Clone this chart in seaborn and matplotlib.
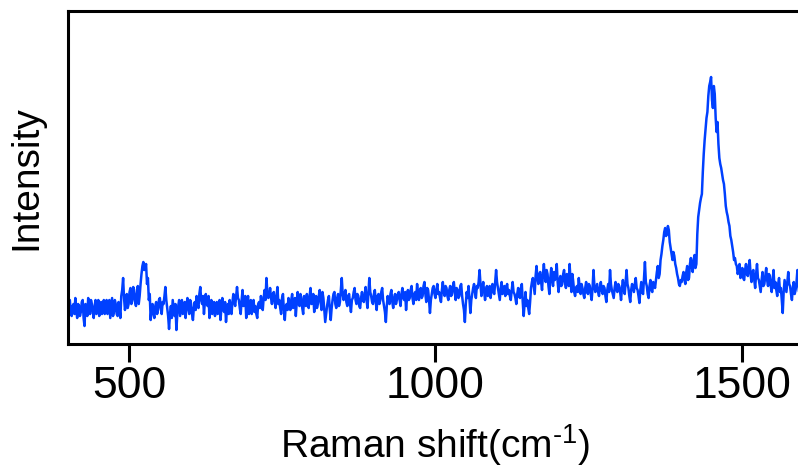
import numpy as np
import pandas as pd
import matplotlib
matplotlib.use("Agg")
import matplotlib.pyplot as plt
import seaborn as sns

# Raman spectrum, counts on the 3 cm^-1 grid 400, 403, ..., 1600
grid_start, grid_step = 400.0, 3.0
intensity_grid = [
    30, 44, 28, 40, 46, 26, 38, 32, 44, 18,      # 400-427
    36, 46, 30, 40, 26, 44, 34, 28, 42, 36,      # 430-457
    30, 44, 38, 26, 46, 32, 40, 28, 36, 48,      # 460-487
    66, 34, 50, 40, 56, 44, 54, 38, 58, 48,      # 490-517
    70, 82, 76, 60, 44, 24, 40, 26, 42, 34,      # 520-547
    46, 30, 40, 57, 36, 15, 38, 44, 28, 14,      # 550-577
    38, 28, 44, 34, 26, 46, 30, 40, 24, 42,      # 580-607
    48, 36, 57, 40, 30, 50, 38, 26, 44, 34,      # 610-637
    28, 42, 36, 24, 46, 32, 22, 40, 44, 30,      # 640-667
    50, 38, 57, 44, 30, 54, 40, 26, 48, 36,      # 670-697
    30, 44, 38, 26, 42, 48, 34, 54, 66, 46,      # 700-727
    56, 40, 52, 36, 57, 44, 30, 50, 24, 40,      # 730-757
    46, 34, 50, 40, 28, 52, 38, 46, 30, 44,      # 760-787
    50, 36, 56, 42, 32, 48, 40, 54, 34, 46,      # 790-817
    22, 38, 48, 24, 44, 52, 36, 50, 42, 66,      # 820-847
    44, 54, 38, 50, 32, 46, 56, 40, 48, 36,      # 850-877
    52, 42, 57, 36, 66, 48, 40, 54, 34, 50,      # 880-907
    44, 56, 38, 22, 48, 40, 54, 36, 50, 44,      # 910-937
    52, 38, 56, 44, 34, 54, 46, 58, 40, 52,      # 940-967
    60, 44, 56, 48, 62, 42, 54, 31, 50, 58,      # 970-997
    46, 60, 52, 42, 62, 48, 56, 44, 58, 50,      # 1000-1027
    62, 44, 54, 48, 60, 40, 22, 52, 58, 31,      # 1030-1057
    50, 60, 46, 56, 74, 48, 62, 44, 58, 52,      # 1060-1087
    46, 60, 50, 74, 56, 44, 62, 52, 48, 60,      # 1090-1117
    54, 44, 62, 50, 40, 56, 46, 60, 28, 52,      # 1120-1147
    44, 30, 56, 66, 50, 78, 60, 72, 54, 80,      # 1150-1177
    62, 70, 50, 76, 58, 64, 80, 52, 68, 60,      # 1180-1207
    74, 56, 66, 80, 52, 62, 48, 58, 66, 50,      # 1210-1237
    56, 46, 62, 50, 58, 44, 74, 52, 60, 48,      # 1240-1267
    62, 50, 56, 42, 60, 74, 54, 46, 62, 52,      # 1270-1297
    58, 44, 64, 50, 74, 56, 42, 60, 52, 66,      # 1300-1327
    54, 41, 62, 50, 82, 58, 46, 64, 52, 60,      # 1330-1357
    64, 78, 70, 90, 104, 116, 110, 114, 96, 84,  # 1360-1387
    88, 76, 66, 58, 62, 72, 60, 78, 66, 86,      # 1390-1417
    72, 89, 80, 127, 141, 150, 190, 215, 232, 258,   # 1420-1447
    267, 236, 250, 212, 200, 180, 170, 160, 138, 128,  # 1450-1477
    118, 104, 92, 86, 78, 74, 66, 76, 64, 80,    # 1480-1507
    68, 84, 62, 74, 56, 80, 64, 52, 72, 60,      # 1510-1537
    76, 58, 68, 52, 74, 62, 48, 66, 56, 31,      # 1540-1567
    64, 52, 72, 58, 44, 62, 54, 74, 50, 31,      # 1570-1597
    56,                                          # 1600
]

# counts at the half-step positions 401.5, 404.5, ..., 1598.5
intensity_half = [
    42, 32, 38, 30, 34, 40, 28, 42, 26, 40,      # 401.5-428.5
    28, 36, 44, 32, 38, 30, 44, 40, 30, 44,      # 431.5-458.5
    40, 30, 44, 36, 28, 44, 30, 42, 26, 54,      # 461.5-488.5
    46, 40, 36, 52, 40, 57, 42, 50, 40, 60,      # 491.5-518.5
    78, 74, 80, 66, 50, 36, 30, 38, 30, 44,      # 521.5-548.5
    36, 42, 48, 44, 28, 30, 26, 36, 40, 30,      # 551.5-578.5
    44, 36, 30, 42, 38, 36, 44, 30, 36, 34,      # 581.5-608.5
    40, 50, 44, 48, 42, 40, 48, 36, 30, 42,      # 611.5-638.5
    38, 30, 44, 36, 34, 42, 34, 30, 36, 42,      # 641.5-668.5
    42, 48, 46, 36, 44, 38, 48, 40, 30, 44,      # 671.5-698.5
    40, 32, 30, 40, 36, 40, 46, 44, 52, 48,      # 701.5-728.5
    46, 50, 42, 48, 40, 36, 46, 34, 38, 34,      # 731.5-758.5
    38, 44, 36, 46, 42, 40, 50, 36, 48, 38,      # 761.5-788.5
    42, 48, 40, 50, 44, 36, 48, 42, 52, 34,      # 791.5-818.5
    30, 44, 34, 36, 50, 40, 46, 38, 54, 50,      # 821.5-848.5
    50, 42, 48, 40, 44, 52, 44, 50, 38, 46,      # 851.5-878.5
    44, 50, 44, 50, 52, 42, 50, 42, 48, 40,      # 881.5-908.5
    52, 44, 32, 38, 42, 50, 42, 46, 40, 50,      # 911.5-938.5
    44, 50, 46, 52, 46, 44, 54, 46, 50, 44,      # 941.5-968.5
    50, 54, 46, 58, 50, 56, 44, 44, 56, 50,      # 971.5-998.5
    54, 50, 46, 54, 52, 58, 48, 54, 48, 58,      # 1001.5-1028.5
    52, 56, 46, 58, 48, 34, 40, 46, 44, 44,      # 1031.5-1058.5
    56, 52, 58, 62, 60, 56, 52, 54, 48, 58,      # 1061.5-1088.5
    54, 52, 62, 62, 50, 56, 50, 58, 56, 50,      # 1091.5-1118.5
    48, 54, 52, 46, 50, 48, 56, 42, 40, 38,      # 1121.5-1148.5
    36, 42, 62, 58, 68, 66, 70, 62, 70, 68,      # 1151.5-1178.5
    74, 58, 66, 64, 72, 70, 62, 64, 58, 70,      # 1181.5-1208.5
    62, 70, 58, 64, 70, 52, 56, 52, 56, 60,      # 1211.5-1238.5
    50, 56, 52, 60, 50, 56, 58, 56, 52, 56,      # 1241.5-1268.5
    54, 58, 48, 54, 52, 60, 50, 56, 54, 60,      # 1271.5-1298.5
    52, 56, 54, 62, 60, 48, 54, 56, 60, 56,      # 1301.5-1328.5
    48, 54, 52, 66, 62, 50, 58, 54, 62, 56,      # 1331.5-1358.5
    72, 66, 84, 98, 112, 108, 118, 102, 90, 92,  # 1361.5-1388.5
    80, 70, 60, 64, 68, 64, 72, 64, 80, 78,      # 1391.5-1418.5
    84, 76, 110, 134, 146, 172, 204, 226, 248, 262,  # 1421.5-1448.5
    244, 258, 226, 222, 186, 176, 164, 150, 132, 122,  # 1451.5-1478.5
    108, 98, 84, 80, 70, 80, 72, 66, 74, 70,     # 1481.5-1508.5
    78, 70, 72, 64, 70, 66, 58, 64, 58, 68,      # 1511.5-1538.5
    64, 70, 58, 64, 56, 54, 60, 52, 44, 52,      # 1541.5-1568.5
    58, 62, 60, 50, 56, 50, 62, 58, 42, 48,      # 1571.5-1598.5
]
x_ticks = [500, 1000, 1500]

shift_grid = grid_start + grid_step * np.arange(len(intensity_grid))
shift_half = grid_start + grid_step / 2 + grid_step * np.arange(len(intensity_half))
df = pd.DataFrame({
    "shift": np.concatenate([shift_grid, shift_half]),
    "intensity": np.concatenate([intensity_grid, intensity_half]),
}).sort_values("shift")

sns.set_style("white")
plt.rcParams["font.family"] = ["Liberation Sans", "DejaVu Sans"]
plt.rcParams["mathtext.fontset"] = "custom"
plt.rcParams["mathtext.rm"] = "Liberation Sans"
plt.rcParams["mathtext.it"] = "Liberation Sans"
plt.rcParams["text.color"] = "black"
plt.rcParams["axes.labelcolor"] = "black"

fig = plt.figure(figsize=(7.98, 4.73), dpi=100)
ax = fig.add_axes([0.0852, 0.2727, 0.921, 0.704])

sns.lineplot(data=df, x="shift", y="intensity", ax=ax, color="#0040FF",
             linewidth=1.8, estimator=None, sort=True)

ax.set_xlim(400, 1600)
ax.set_ylim(0, 333)
ax.set_xticks(x_ticks)
ax.set_xticklabels([str(t) for t in x_ticks])
ax.set_yticks([])

for side in ["left", "right", "top", "bottom"]:
    ax.spines[side].set_visible(True)
    ax.spines[side].set_color("black")
    ax.spines[side].set_linewidth(2.2)

ax.tick_params(axis="x", direction="out", length=13, width=2.2,
               labelsize=32, pad=3, colors="black", bottom=True)

ax.set_xlabel("Raman shift(cm$^{\\mathrm{\u2010}1}$)", fontsize=28,
              labelpad=11, color="black")
ax.set_ylabel("Intensity", fontsize=28, labelpad=17, color="black")

fig.savefig("out.png", dpi=100)
